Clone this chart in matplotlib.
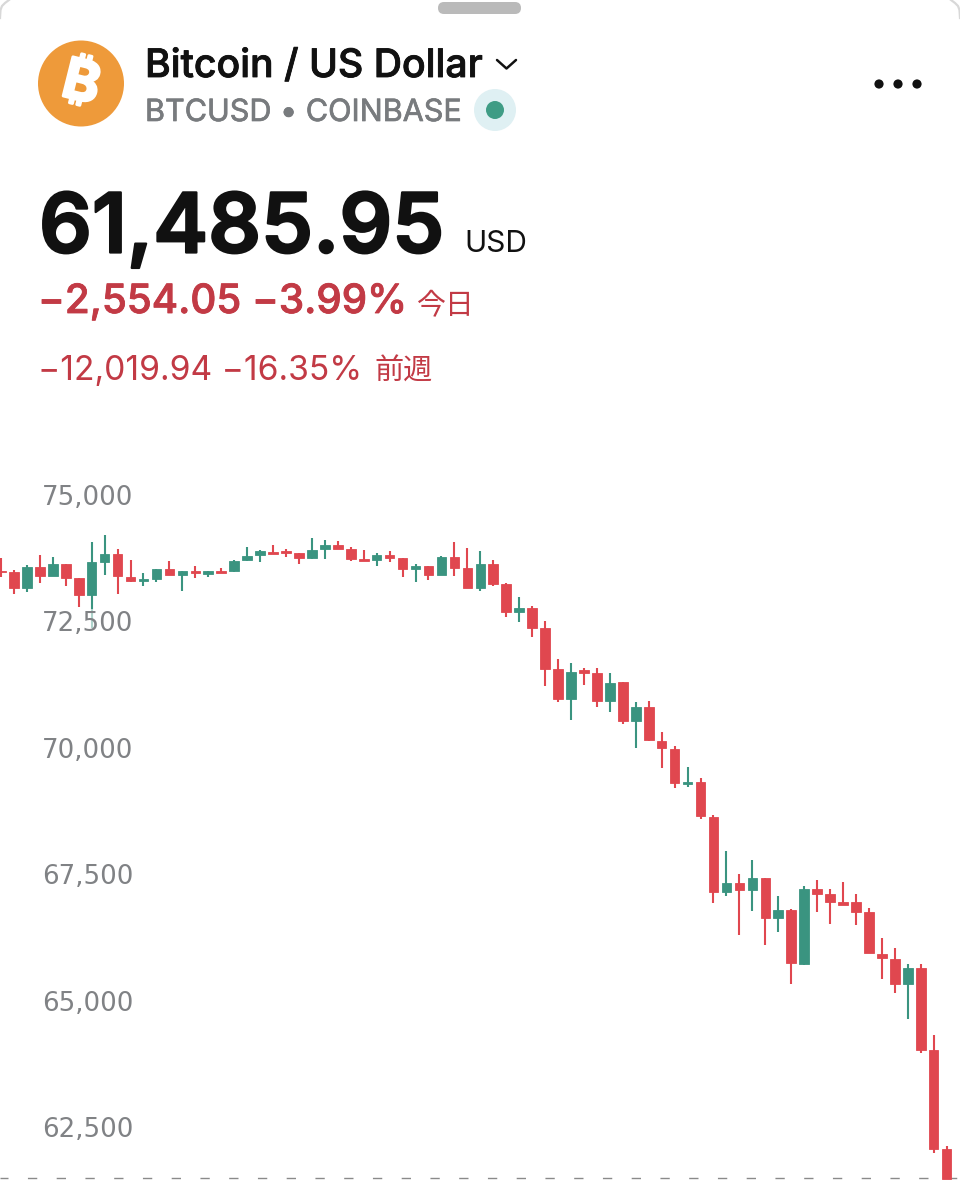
import matplotlib
matplotlib.use("Agg")
import matplotlib.pyplot as plt
import matplotlib.patheffects as pe
from matplotlib.patches import Circle, FancyBboxPatch

# ---------- data ----------
title = "Bitcoin / US Dollar"
subtitle = "BTCUSD • COINBASE"
last_price = 61485.95
price_text = "61,485.95"
currency = "USD"
day_change = "−2,554.05 −3.99%"
day_label = "今日"
week_change = "−12,019.94 −16.35%"
week_label = "前週"
tick_values = [75000, 72500, 70000, 67500, 65000, 62500]
tick_labels = ["75,000", "72,500", "70,000", "67,500", "65,000", "62,500"]

opens = [73500,73470,73170,73580,73400,73630,73350,73020,73670,73840,
         73380,73290,73340,73540,73420,73490,73440,73500,73490,73710,
         73810,73880,73890,73860,73760,73930,74010,73930,73730,73710,
         73810,73750,73530,73590,73420,73770,73560,73170,73640,73230,
         72690,72770,72360,71560,70960,71540,71470,70920,71300,70520,
         70810,70140,69980,69280,69320,68640,67150,67320,67190,67430,
         66630,66790,65730,67200,67100,66940,66940,66760,65930,65820,
         65330,65640,64020,62070]
highs = [73750,73520,73610,73810,73780,73630,73360,74080,74210,73940,
         73710,73450,73540,73690,73500,73590,73490,73560,73710,73970,
         73910,74020,73930,73860,74140,74110,74100,73970,73910,73860,
         73890,73750,73630,73590,73790,74080,73950,73890,73710,73250,
         72980,72800,72500,71750,71680,71580,71570,71470,71300,70900,
         70930,70310,70040,69620,69410,68670,67960,67510,67790,67430,
         67070,66820,67270,67390,67200,67350,67110,66840,66240,66030,
         65730,65720,64310,62120]
lows = [73380,73040,73080,73260,73400,73210,72780,72370,73420,73040,
        73280,73210,73280,73410,73100,73360,73380,73450,73480,73700,
        73680,73830,73780,73640,73730,73740,73930,73690,73690,73600,
        73680,73370,73270,73310,73420,73390,73160,73100,73210,72590,
        72490,72200,71220,70910,70540,71250,70810,70710,70480,69990,
        70130,69610,69200,69220,68590,66920,67060,66300,66780,66090,
        66350,65330,65710,66750,66520,66900,66490,65940,65420,65140,
        64630,63960,61990,61470]
closes = [73480,73170,73580,73400,73630,73360,73020,73670,73840,73400,
          73290,73340,73540,73410,73490,73450,73490,73460,73700,73790,
          73890,73840,73850,73760,73920,74020,73930,73730,73690,73810,
          73760,73540,73600,73420,73770,73560,73170,73640,73230,72690,
          72770,72370,71560,70960,71500,71470,70920,71290,70520,70810,
          70150,69990,69300,69320,68650,67150,67320,67190,67430,66630,
          66790,65740,67200,67110,66950,66900,66760,65950,65840,65330,
          65640,64020,62070,61480]

# ---------- styles ----------
RED = "#E0474F"
GREEN = "#3A9480"
TEXT_RED = "#C23A45"
GREY = "#787B7E"
AXIS_GREY = "#808285"
BLACK = "#111111"

plt.rcParams["font.family"] = ["Inter", "Noto Sans", "DejaVu Sans"]
CJK = ["Noto Sans CJK JP", "DejaVu Sans"]
SYMBOL = ["Inter", "Noto Sans", "Open Sans", "Roboto", "Lato", "DejaVu Sans"]

fig = plt.figure(figsize=(9.6, 12), dpi=100, facecolor="white")

# ---------- candlestick chart ----------
ax = fig.add_axes([0, 0, 1, 770 / 1200])
ax.set_xlim(-0.077, 74.03)
ax.set_ylim(61055, 76286)
ax.patch.set_alpha(0)
for s in ax.spines.values():
    s.set_visible(False)
ax.set_xticks([])
ax.set_yticks(tick_values)
ax.set_yticklabels(tick_labels, fontsize=18.8, color=AXIS_GREY, family="DejaVu Sans")
ax.tick_params(axis="y", length=0, pad=-96.2)
ax.set_axisbelow(False)
for lab in ax.get_yticklabels():
    lab.set_bbox(dict(fc="white", ec="none", alpha=0.6, pad=1.5))

colors = [RED if c < o else GREEN for o, c in zip(opens, closes)]
idx = list(range(len(opens)))
ax.vlines(idx, lows, highs, colors=colors, linewidth=1.5, zorder=1)
ax.bar(idx, [abs(c - o) for o, c in zip(opens, closes)],
       bottom=[min(o, c) for o, c in zip(opens, closes)],
       width=0.74, color=colors, edgecolor=colors, linewidth=0.6, zorder=1.2)
ax.axhline(last_price, color="#8a8a8a", lw=1,
           linestyle=(0.94, (6.7, 14)), zorder=0.5)

# ---------- header drawn in pixel coordinates ----------
ui = fig.add_axes([0, 0, 1, 1])
ui.set_xlim(0, 960)
ui.set_ylim(1200, 0)
ui.axis("off")
ui.patch.set_alpha(0)

ui.add_patch(FancyBboxPatch((438, 2), 83, 12, boxstyle="round,pad=0,rounding_size=6",
                            fc="#BABABA", ec="none"))
# sheet corners
ui.plot([0, 0.5, 2, 5, 9], [18, 10, 6, 3, 0], color="#D8D8D8", lw=1.6)
ui.plot([960, 959.5, 958, 955, 951], [18, 10, 6, 3, 0], color="#D8D8D8", lw=1.6)

ui.add_patch(Circle((81, 83.5), 43, fc="#EE9A3A", ec="none"))
ui.text(81, 85, "₿", color="white", fontsize=40, fontweight="bold",
        family=SYMBOL, rotation=-14, ha="center", va="center",
        rotation_mode="anchor",
        path_effects=[pe.withStroke(linewidth=2, foreground="white")])

heavy = [pe.withStroke(linewidth=0.6, foreground=BLACK)]
ui.text(145, 77, title, fontsize=28.2, fontweight="medium", color=BLACK, va="baseline",
        path_effects=heavy)
ui.plot([497, 506.5, 516], [60, 68.5, 60], color=BLACK, lw=1.8,
        solid_capstyle="round", solid_joinstyle="round")
ui.text(145, 121, subtitle, fontsize=22, color=GREY, va="baseline",
        path_effects=[pe.withStroke(linewidth=0.5, foreground=GREY)])
ui.add_patch(Circle((495, 110), 21, fc="#DFF0F3", ec="none"))
ui.add_patch(Circle((495, 110), 9, fc="#3F9C85", ec="none"))
for x in (879, 898, 917):
    ui.add_patch(Circle((x, 84), 4.6, fc=BLACK, ec="none"))

ui.text(39, 252.5, price_text, fontsize=59.5, fontweight="semibold", color=BLACK, va="baseline",
        path_effects=[pe.withStroke(linewidth=1.6, foreground=BLACK)])
ui.text(464, 252, currency, fontsize=21.5, color=BLACK, va="baseline")
ui.text(38, 313, day_change, fontsize=29, fontweight="medium", color=TEXT_RED, va="baseline",
        path_effects=[pe.withStroke(linewidth=0.6, foreground=TEXT_RED)])
ui.text(417, 314, day_label, fontsize=20.8, color=TEXT_RED, va="baseline", family=CJK)
ui.text(38, 380, week_change, fontsize=24.2, color=TEXT_RED, va="baseline")
ui.text(374, 380, week_label, fontsize=21, color=TEXT_RED, va="baseline", family=CJK)

fig.savefig("out.png", dpi=100, facecolor="white")
